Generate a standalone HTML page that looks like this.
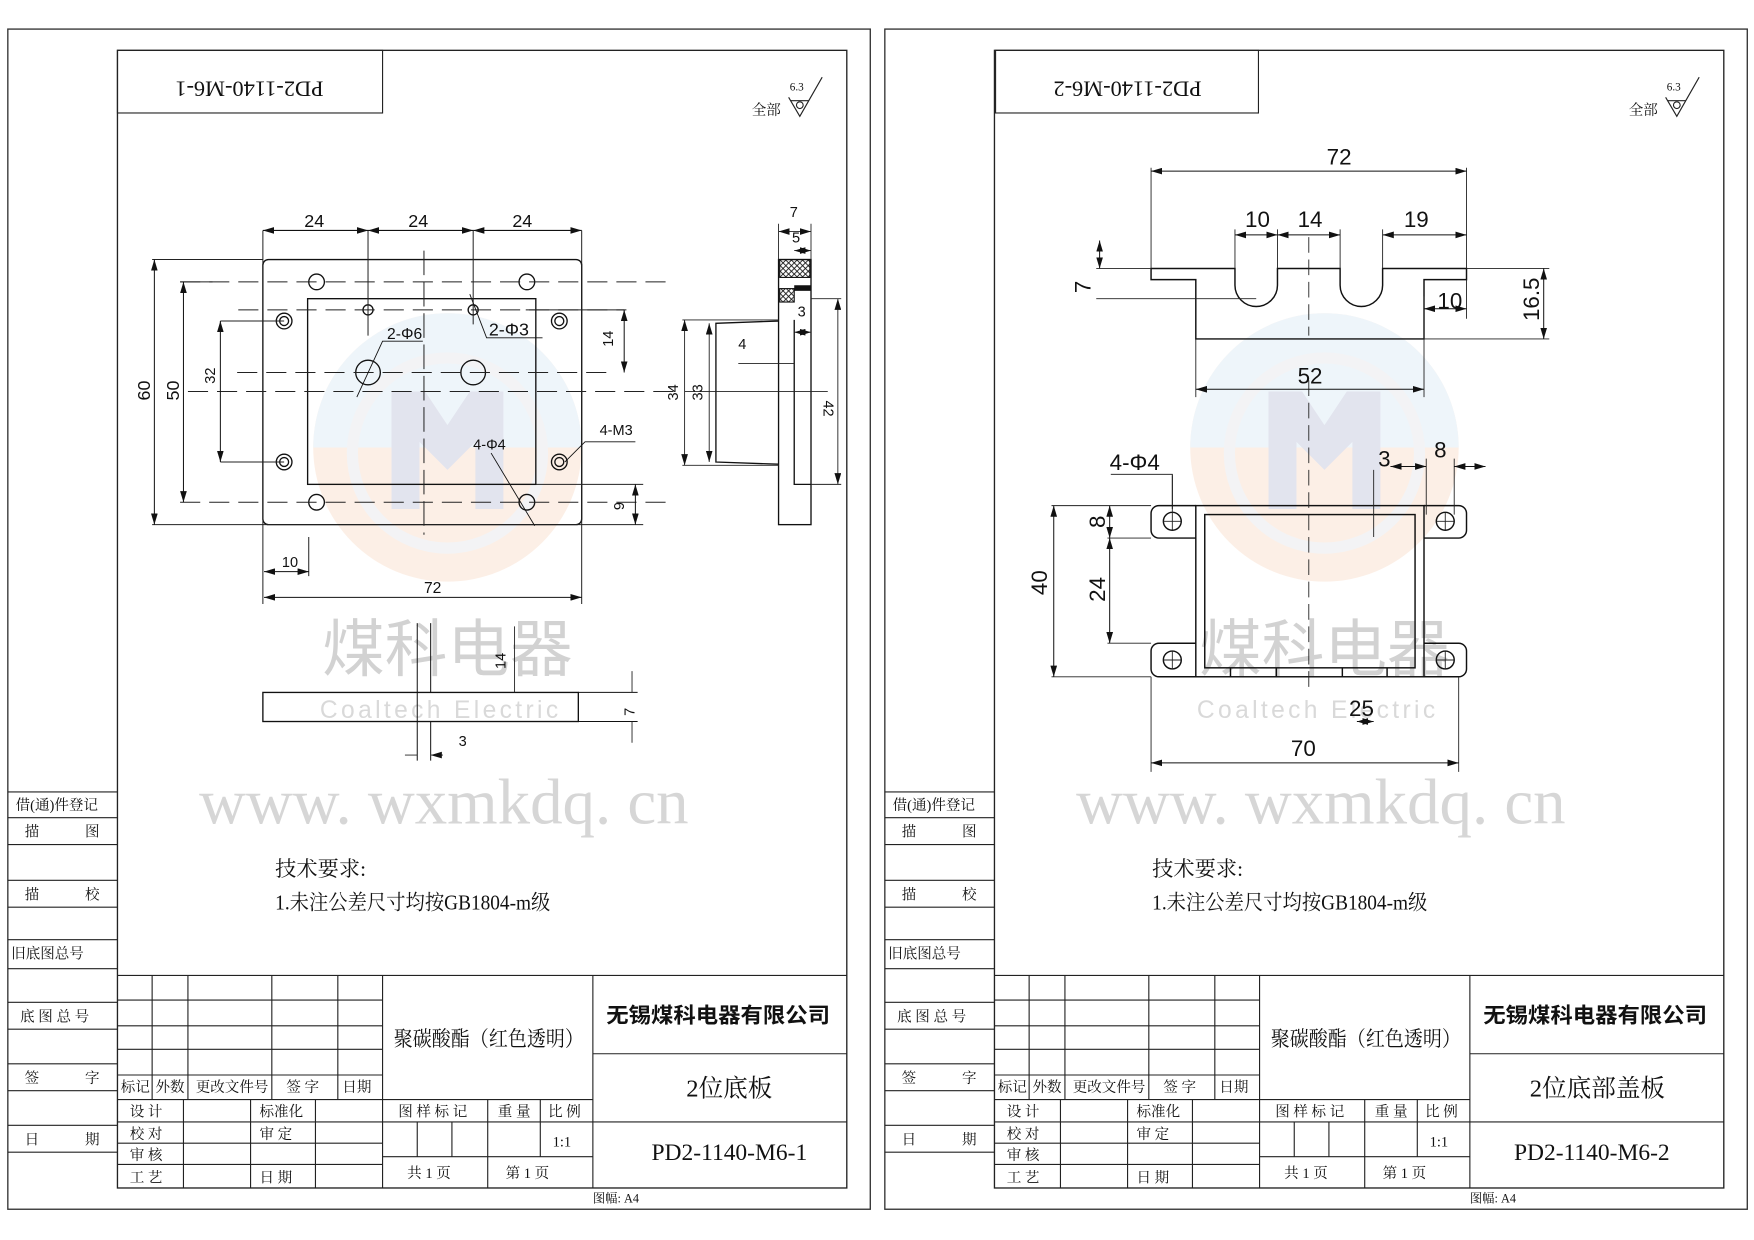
<!DOCTYPE html>
<html><head><meta charset="utf-8"><style>
html,body{margin:0;padding:0;background:#fff;}
svg{display:block;}
text{font-family:"Liberation Sans","Noto Sans CJK SC",sans-serif;fill:#111;}
.s{font-family:"Liberation Serif","Noto Serif CJK SC",serif;}
</style></head><body>
<svg width="1754" height="1240" viewBox="0 0 1568 1108.5" preserveAspectRatio="none" xmlns="http://www.w3.org/2000/svg">
<defs>
<marker id="a" viewBox="0 0 10 6" refX="10" refY="3" markerWidth="10" markerHeight="6" orient="auto-start-reverse" markerUnits="userSpaceOnUse"><path d="M0,0L10,3L0,6z" fill="#111"/></marker>
<pattern id="h" width="5" height="5" patternUnits="userSpaceOnUse"><path d="M0,0L5,5M5,0L0,5" stroke="#111" stroke-width="0.8"/></pattern>
<g id="sheet">
 <rect x="7" y="26" width="771" height="1055" fill="none" stroke="#333" stroke-width="1.2"/>
 <rect x="105" y="45" width="652" height="1017" fill="none" stroke="#222" stroke-width="1.2"/>
 <g stroke="#222" stroke-width="1" fill="none">
  <path d="M7,708H105M7,731H105M7,755H105M7,787H105M7,811H105M7,840H105M7,866H105M7,896H105M7,920H105M7,951H105M7,975H105M7,1006H105M7,1030H105"/>
 </g>
 <g font-size="13" class="s">
  <text x="14" y="724" class="s">借(通)件登记</text>
  <text x="22" y="748" class="s">描</text><text x="76" y="748" class="s">图</text>
  <text x="22" y="804" class="s">描</text><text x="76" y="804" class="s">校</text>
  <text x="10" y="857" class="s">旧底图总号</text>
  <text x="18" y="913" class="s">底 图 总 号</text>
  <text x="22" y="968" class="s">签</text><text x="76" y="968" class="s">字</text>
  <text x="22" y="1023" class="s">日</text><text x="76" y="1023" class="s">期</text>
 </g>
 <g stroke="#222" stroke-width="1" fill="none">
  <path d="M105,872H757"/>
  <path d="M105,894H342M105,917H342M105,938H342M105,961H342M105,983H530M105,1003H342M105,1022H342M105,1041H342"/>
  <path d="M136,872V983M168,872V983M243,872V983M302,872V983M342,872V1062M530,872V1062"/>
  <path d="M530,942H757M530,1003H757M342,1003H530M342,1034H530"/>
  <path d="M164,983V1062M224,983V1062M282,983V1062"/>
  <path d="M373,1003V1034M404,1003V1034M436,983V1062M483,983V1034"/>
 </g>
 <g font-size="13" class="s">
  <text x="108" y="976" class="s">标记</text><text x="139" y="976" class="s">外数</text><text x="175" y="976" class="s">更改文件号</text><text x="256" y="976" class="s">签 字</text><text x="306" y="976" class="s">日期</text>
  <text x="116" y="998" class="s">设 计</text><text x="232" y="998" class="s">标准化</text>
  <text x="116" y="1018" class="s">校 对</text><text x="232" y="1018" class="s">审 定</text>
  <text x="116" y="1037" class="s">审 核</text>
  <text x="116" y="1057" class="s">工 艺</text><text x="232" y="1057" class="s">日 期</text>
  <text x="356" y="998" class="s">图 样 标 记</text><text x="445" y="998" class="s">重 量</text><text x="490" y="998" class="s">比 例</text>
  <text x="494" y="1025" class="s">1:1</text>
  <text x="364" y="1053" class="s">共 1 页</text><text x="452" y="1053" class="s">第 1 页</text>
  <text x="530" y="1075" font-size="11" class="s">图幅: A4</text>
 </g>
 <text x="352" y="935" font-size="19" textLength="170" lengthAdjust="spacingAndGlyphs" class="s">聚碳酸酯（红色透明）</text>
 <text x="542" y="914" font-size="19" font-weight="bold" textLength="200" lengthAdjust="spacingAndGlyphs">无锡煤科电器有限公司</text>
 <text x="246" y="783" font-size="19" class="s">技术要求:</text>
 <text x="246" y="813" font-size="19" textLength="246" lengthAdjust="spacingAndGlyphs" class="s">1.未注公差尺寸均按GB1804-m级</text>
 <g stroke="#222" stroke-width="1" fill="none"><path d="M705,87L715,104L735,69"/><path d="M707,90H723"/><circle cx="715" cy="94" r="3"/></g>
 <text x="672" y="103" font-size="13" class="s">全部</text><text x="706" y="81" font-size="10" class="s">6.3</text>
 <g opacity="0.28">
  <circle cx="400" cy="400" r="120" fill="#f6c9a8"/>
  <path d="M280,400A120,120 0 0 1 520,400Z" fill="#c5dcee"/>
  <circle cx="400" cy="405" r="85" fill="none" stroke="#d7d7dc" stroke-width="10"/>
  <path d="M350,350H380L400,380L420,350H450V455H425V395L400,420L375,395V455H350Z" fill="#9aa0c5"/>
 </g>
 <text x="288" y="600" font-size="56" style="fill:#d2d2d2">煤科电器</text>
 <text x="286" y="642" font-size="22" letter-spacing="3" style="fill:#d9d9d9" font-family="Liberation Mono">Coaltech Electric</text>
 <text x="178" y="736" font-size="58" class="s" style="fill:#d6d6d6">www. wxmkdq. cn</text>
</g>
</defs>

<use href="#sheet"/>
<use href="#sheet" x="784"/>

<rect x="105" y="45" width="237" height="56" fill="none" stroke="#222"/>
<text transform="translate(223,73) rotate(180)" font-size="20" text-anchor="middle" class="s">PD2-1140-M6-1</text>
<text x="652" y="980" font-size="22" text-anchor="middle" class="s">2位底板</text>
<text x="652" y="1037" font-size="21" text-anchor="middle" class="s">PD2-1140-M6-1</text>

<g stroke="#111" stroke-width="1.2" fill="none">
 <rect x="235" y="232" width="285" height="237" rx="5"/>
 <rect x="275" y="267" width="204" height="166"/>
 <circle cx="283" cy="252" r="7"/><circle cx="471" cy="252" r="7"/><circle cx="283" cy="449" r="7"/><circle cx="471" cy="449" r="7"/>
 <circle cx="254" cy="287" r="7"/><circle cx="254" cy="287" r="4"/><circle cx="500" cy="287" r="7"/><circle cx="500" cy="287" r="4"/>
 <circle cx="254" cy="413" r="7"/><circle cx="254" cy="413" r="4"/><circle cx="500" cy="413" r="7"/><circle cx="500" cy="413" r="4"/>
 <circle cx="329" cy="277" r="4.5"/><circle cx="423" cy="277" r="4.5"/>
 <circle cx="329" cy="333" r="11"/><circle cx="423" cy="333" r="11"/>
</g>
<g stroke="#222" stroke-width="0.9" fill="none">
 <path d="M161,252H596M213,277H560M212,333H544M168,350H603M161,449H596" stroke-dasharray="18,8"/>
 <path d="M379,224V478" stroke-dasharray="22,6"/>
 <path d="M329,206V300M423,206V290M235,206V540M520,206V540M276,480V515"/>
 <path d="M136,232H235M136,469H575M161,252H190M197,287H254M197,413H254M558,277H470M479,433H575"/>
</g>
<g stroke="#111" stroke-width="0.9" marker-start="url(#a)" marker-end="url(#a)">
 <path d="M235,206H329"/><path d="M329,206H423"/><path d="M423,206H520"/>
 <path d="M138,232V469"/><path d="M164,252V449"/><path d="M197,287V413"/>
 <path d="M558,277V333"/><path d="M568,433V469"/>
 <path d="M236,511H276"/><path d="M236,534H520"/>
</g>
<g stroke="#111" stroke-width="0.8" fill="none">
 <path d="M319,355L342,305H378M420,263L435,302H485M439,405L478,470M505,413L523,395H568"/>
</g>
<g font-size="16">
 <text x="272" y="203">24</text><text x="365" y="203">24</text><text x="458" y="203">24</text>
 <text transform="translate(134,358) rotate(-90)">60</text>
 <text transform="translate(160,358) rotate(-90)">50</text>
 <text transform="translate(192,343) rotate(-90)" font-size="13">32</text>
 <text transform="translate(548,310) rotate(-90)" font-size="13">14</text>
 <text transform="translate(558,456) rotate(-90)" font-size="13">9</text>
 <text x="252" y="507" font-size="13">10</text><text x="379" y="530" font-size="14">72</text>
 <text x="346" y="303" font-size="14">2-Φ6</text><text x="437" y="300" font-size="16">2-Φ3</text>
 <text x="423" y="402" font-size="13">4-Φ4</text><text x="536" y="389" font-size="13">4-M3</text>
</g>
<g stroke="#111" stroke-width="1.2" fill="none">
 <rect x="696" y="232" width="29" height="237"/>
 <path d="M710,286V433H725"/>
 <path d="M696,287L640,289V413L696,415"/>
</g>
<rect x="697" y="232" width="27" height="16" fill="url(#h)" stroke="#111"/>
<rect x="697" y="258" width="13" height="12" fill="url(#h)" stroke="#111"/>
<rect x="710" y="255" width="15" height="5" fill="#111"/>
<g stroke="#222" stroke-width="0.8" marker-start="url(#a)" marker-end="url(#a)">
 <path d="M696,207H725"/><path d="M710,224H725"/><path d="M612,286V416"/><path d="M634,289V413"/><path d="M749,267V433"/><path d="M710,297H725"/>
</g>
<path d="M696,200V232M725,200V232M612,350H740M610,286H696M610,416H696M725,267H752M725,433H752M660,325H710" stroke="#222" stroke-width="0.8" fill="none"/>
<g font-size="13"><text x="706" y="194">7</text><text x="708" y="217">5</text><text x="713" y="283">3</text><text x="660" y="312">4</text>
<text transform="translate(606,358) rotate(-90)">34</text><text transform="translate(628,358) rotate(-90)">33</text><text transform="translate(736,358) rotate(90)">42</text></g>
<rect x="235" y="619" width="282" height="26" fill="none" stroke="#111" stroke-width="1.2"/>
<path d="M373,557V680M385,557V619M517,619H570M517,645H570M385,645V680" stroke="#111" stroke-width="0.9" fill="none"/>
<path d="M565,600L565,619M565,664L565,645M460,560V619M362,675H373M396,675H385" stroke="#222" stroke-width="0.8" marker-end="url(#a)"/>
<g font-size="13"><text transform="translate(452,598) rotate(-90)">14</text><text transform="translate(567,640) rotate(-90)">7</text><text x="410" y="667">3</text></g>

<rect x="890" y="45" width="235" height="56" fill="none" stroke="#222"/>
<text transform="translate(1008,73) rotate(180)" font-size="20" text-anchor="middle" class="s">PD2-1140-M6-2</text>
<text x="1428" y="980" font-size="22" text-anchor="middle" class="s">2位底部盖板</text>
<text x="1423" y="1037" font-size="21" text-anchor="middle" class="s">PD2-1140-M6-2</text>

<g stroke="#111" stroke-width="1.3" fill="none">
 <path d="M1029,240H1104V255A19,19 0 0 0 1142,255V240H1198V255A19,19 0 0 0 1236,255V240H1311V250H1273V303H1069V250H1029Z"/>
 <rect x="1069" y="452" width="204" height="153"/>
 <rect x="1077" y="460" width="188" height="137"/>
 <path d="M1069,452H1036A7,7 0 0 0 1029,459V474A7,7 0 0 0 1036,481H1069M1069,575H1036A7,7 0 0 0 1029,582V598A7,7 0 0 0 1036,605H1069"/>
 <path d="M1273,452H1304A7,7 0 0 1 1311,459V474A7,7 0 0 1 1304,481H1273M1273,575H1304A7,7 0 0 1 1311,582V598A7,7 0 0 1 1304,605H1273"/>
 <circle cx="1048" cy="466" r="8"/><circle cx="1048" cy="590" r="8"/><circle cx="1292" cy="466" r="8"/><circle cx="1292" cy="590" r="8"/>
 <path d="M1100,597V605M1141,597V605M1200,597V605M1240,597V605"/>
</g>
<g stroke="#222" stroke-width="0.8" fill="none">
 <path d="M1170,212V300M1170,340V620" stroke-dasharray="14,6"/>
 <path d="M1029,150V240M1311,150V240M1104,205V240M1142,205V240M1198,205V240M1236,205V240"/>
 <path d="M980,240H1029M980,267H1123M1311,240H1385M1273,303H1385M1273,265V303M1311,250V285M1069,303V355M1273,303V355"/>
 <path d="M940,452H1029M990,481H1029M990,575H1029M940,605H1029M1029,605V690M1304,605V690M1040,466H1056M1048,458V474M1040,590H1056M1048,582V598M1284,466H1300M1292,458V474M1284,590H1300M1292,582V598"/>
 <path d="M1228,420V480M1275,410V460M1300,410V460M1048,425V458"/>
</g>
<g stroke="#111" stroke-width="0.9" marker-start="url(#a)" marker-end="url(#a)">
 <path d="M1029,153H1311"/><path d="M1104,210H1142"/><path d="M1142,210H1198"/><path d="M1236,210H1311"/>
 <path d="M983,215V240"/><path d="M1380,240V303"/><path d="M1273,276H1311"/><path d="M1069,348H1273"/>
 <path d="M942,452V605"/><path d="M992,452V481"/><path d="M992,481V575"/>
 <path d="M1029,682H1304"/><path d="M1213,645H1228"/><path d="M1243,417H1275"/><path d="M1300,417H1328"/>
</g>
<path d="M993,424H1048V455" stroke="#111" stroke-width="0.8" fill="none"/>
<g font-size="20">
 <text x="1186" y="147">72</text><text x="1113" y="203">10</text><text x="1160" y="203">14</text><text x="1255" y="203">19</text>
 <text transform="translate(975,262) rotate(-90)">7</text><text transform="translate(1376,287) rotate(-90)">16.5</text>
 <text x="1285" y="276">10</text><text x="1160" y="343">52</text>
 <text x="992" y="420">4-Φ4</text><text x="1232" y="417">3</text><text x="1282" y="409">8</text>
 <text transform="translate(936,532) rotate(-90)">40</text><text transform="translate(988,472) rotate(-90)">8</text><text transform="translate(988,538) rotate(-90)">24</text>
 <text x="1206" y="640">25</text><text x="1154" y="676">70</text>
</g>
</svg>
</body></html>
